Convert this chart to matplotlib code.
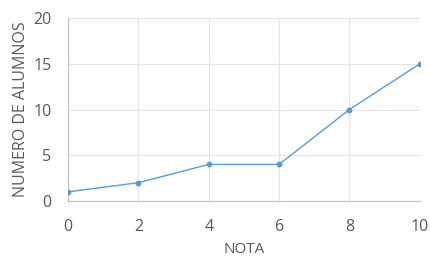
import matplotlib

matplotlib.use("Agg")
import matplotlib.pyplot as plt

nota = [0, 2, 4, 6, 8, 10]
alumnos = [1, 2, 4, 4, 10, 15]

BLUE = "#5B9BD5"
GRID = "#E3E3E3"
TEXT = "#595959"

plt.rcParams.update({
    "font.family": ["Open Sans", "DejaVu Sans"],
})

fig = plt.figure(figsize=(4.31, 2.58), dpi=100)
ax = fig.add_axes([0.158, 0.221, 0.816, 0.709])

ax.plot(nota, alumnos, color=BLUE, linewidth=1.0, marker="o",
        markersize=3.2, zorder=3)

ax.set_xlim(0, 10)
ax.set_ylim(0, 20)
ax.set_xticks(nota)
ax.set_yticks([0, 5, 10, 15, 20])
ax.grid(True, color=GRID, linewidth=0.8)
ax.set_axisbelow(True)

for side in ("top", "right"):
    ax.spines[side].set_visible(False)
for side in ("left", "bottom"):
    ax.spines[side].set_color("#BFBFBF")
    ax.spines[side].set_linewidth(0.8)

ax.tick_params(length=0, labelsize=11.5, colors=TEXT)
ax.tick_params(axis="x", pad=13)
ax.tick_params(axis="y", pad=12)
ax.set_xlabel("NOTA", fontsize=11, color=TEXT, labelpad=5)
ax.set_ylabel("NUMERO DE ALUMNOS", fontsize=11.5, color=TEXT, labelpad=3)

fig.savefig("out.png", dpi=100)
